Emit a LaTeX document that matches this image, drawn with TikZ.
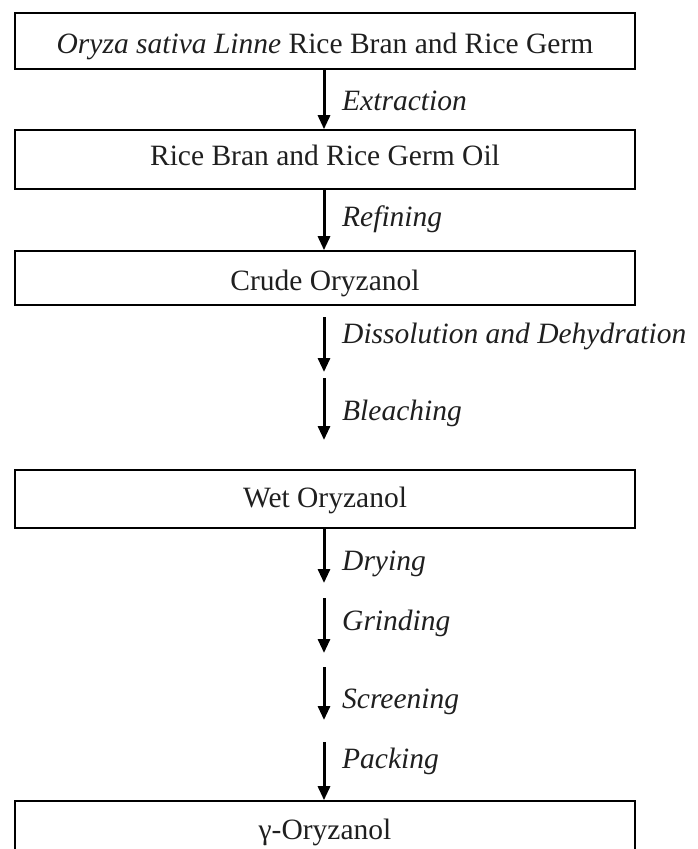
\documentclass[tikz,border=0pt]{standalone}
\usepackage{fontspec}
\setmainfont{Liberation Serif}
\usetikzlibrary{arrows.meta}
\definecolor{ink}{gray}{0.12}
\begin{document}
\begin{tikzpicture}[x=1pt,y=-1pt,
  box/.style={draw=black,line width=1.6pt,minimum width=620pt,inner sep=0pt,text=ink,text depth=6pt,font=\fontsize{29.5}{32}\selectfont},
  flow/.style={draw=black,line width=3pt,-{Triangle[length=14pt,width=12pt]}},
  lbl/.style={anchor=base west,inner sep=0pt,text=ink,font=\fontsize{29.5}{32}\selectfont\itshape}]
\useasboundingbox (0,0) rectangle (697,849);
\clip (0,0) rectangle (697,849);
\node[box,minimum height=56pt,text height=30pt] (b1) at (325,41) {\textit{Oryza sativa Linne} Rice Bran and Rice Germ};
\node[box,minimum height=59pt,text height=17pt] (b2) at (325,159.5) {Rice Bran and Rice Germ Oil};
\node[box,minimum height=54pt,text height=30pt] (b3) at (325,278) {Crude Oryzanol};
\node[box,minimum height=58pt,text height=22pt] (b4) at (325,499) {Wet Oryzanol};
\node[box,minimum height=62pt,text height=20pt] (b5) at (325,832) {γ-Oryzanol};
\coordinate (d1) at (324,317); \coordinate (d2) at (324,372);
\coordinate (e1) at (324,378); \coordinate (e2) at (324,440);
\coordinate (f2) at (324,583);
\coordinate (g1) at (324,598); \coordinate (g2) at (324,653);
\coordinate (s1) at (324,667); \coordinate (s2) at (324,720);
\coordinate (p1) at (324,742);
\draw[flow] (b1.south -| d1) -- (b2.north -| d1);
\draw[flow] (b2.south -| d1) -- (b3.north -| d1);
\draw[flow] (d1) -- (d2);
\draw[flow] (e1) -- (e2);
\draw[flow] (b4.south -| d1) -- (f2);
\draw[flow] (g1) -- (g2);
\draw[flow] (s1) -- (s2);
\draw[flow] (p1) -- (b5.north -| p1);
\node[lbl] (l1) at (342,110) {Extraction};
\node[lbl] (l2) at (342,226) {Refining};
\node[lbl] (l3) at (342,343) {Dissolution and Dehydration};
\node[lbl] (l4) at (342,420) {Bleaching};
\node[lbl] (l5) at (342,570) {Drying};
\node[lbl] (l6) at (342,630) {Grinding};
\node[lbl] (l7) at (342,708) {Screening};
\node[lbl] (l8) at (342,768) {Packing};
\end{tikzpicture}
\end{document}
